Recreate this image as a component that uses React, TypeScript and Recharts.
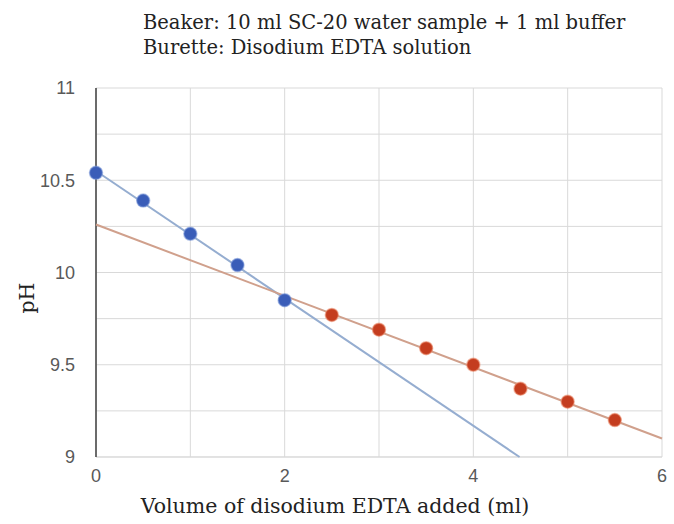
import React from 'react';
import { ScatterChart, Scatter, XAxis, YAxis, CartesianGrid } from 'recharts';

const bluePoints = [
  { x: 0, y: 10.54 },
  { x: 0.5, y: 10.39 },
  { x: 1, y: 10.21 },
  { x: 1.5, y: 10.04 },
  { x: 2, y: 9.85 },
];
const redPoints = [
  { x: 2.5, y: 9.77 },
  { x: 3, y: 9.69 },
  { x: 3.5, y: 9.59 },
  { x: 4, y: 9.5 },
  { x: 4.5, y: 9.37 },
  { x: 5, y: 9.3 },
  { x: 5.5, y: 9.2 },
];
const blueTrend = [
  { x: 0, y: 10.55 },
  { x: 4.49, y: 9 },
];
const redTrend = [
  { x: 0, y: 10.26 },
  { x: 6, y: 9.1 },
];
const xTicks = [0, 1, 2, 3, 4, 5, 6];
const xLabelTicks = [0, 2, 4, 6];
const yTicks = [9, 9.25, 9.5, 9.75, 10, 10.25, 10.5, 10.75, 11];
const yLabelTicks = [9, 9.5, 10, 10.5, 11];

const titleLines = [
  'Beaker: 10 ml SC-20 water sample + 1 ml buffer',
  'Burette: Disodium EDTA solution',
];
const xTitle = 'Volume of disodium EDTA added (ml)';
const yTitle = 'pH';

const serif = '"DejaVu Serif", serif';
const tickStyle = { fill: '#595959', fontSize: 18, fontFamily: '"Liberation Sans", Arial, sans-serif' };

const noShape = () => <g />;

export default function App() {
  return (
    <div style={{ position: 'absolute', left: 0, top: 0, width: 674, height: 524, background: '#fff' }}>
      <ScatterChart width={674} height={524} margin={{ top: 88, right: 12, bottom: 37, left: 36 }}>
        <CartesianGrid stroke="#d9d9d9" strokeWidth={1} />
        <XAxis
          type="number"
          dataKey="x"
          domain={[0, 6]}
          ticks={xTicks}
          interval={0}
          tickFormatter={(v: number) => (xLabelTicks.includes(v) ? String(v) : '')}
          tick={tickStyle}
          tickLine={false}
          tickSize={0}
          tickMargin={12}
          axisLine={{ stroke: '#d9d9d9' }}
          height={30}
        />
        <YAxis
          type="number"
          dataKey="y"
          domain={[9, 11]}
          ticks={yTicks}
          interval={0}
          tickFormatter={(v: number) => (yLabelTicks.includes(v) ? String(v) : '')}
          tick={tickStyle}
          tickLine={false}
          tickSize={0}
          tickMargin={21}
          axisLine={{ stroke: '#404040', strokeWidth: 1.5 }}
          width={60}
        />
        <Scatter
          data={blueTrend}
          line={{ stroke: '#95add0', strokeWidth: 2 }}
          shape={noShape}
          isAnimationActive={false}
        />
        <Scatter
          data={redTrend}
          line={{ stroke: '#d0a08c', strokeWidth: 2 }}
          shape={noShape}
          isAnimationActive={false}
        />
        <Scatter
          data={bluePoints}
          fill="#3a5db8"
          shape={(p: any) => (
            <circle cx={p.cx} cy={p.cy} r={6.5} fill="#3a5db8" stroke="rgba(120,150,215,0.55)" strokeWidth={1.5} />
          )}
          isAnimationActive={false}
        />
        <Scatter
          data={redPoints}
          fill="#c43d1f"
          shape={(p: any) => (
            <circle cx={p.cx} cy={p.cy} r={6.5} fill="#c43d1f" stroke="rgba(235,140,110,0.55)" strokeWidth={1.5} />
          )}
          isAnimationActive={false}
        />
      </ScatterChart>
      <svg width={674} height={524} style={{ position: 'absolute', left: 0, top: 0, pointerEvents: 'none' }}>
        {titleLines.map((t, i) => (
          <text key={i} x={143} y={29 + i * 25} fontFamily={serif} fontSize={19.5} fill="#222">
            {t}
          </text>
        ))}
        <text x={335} y={513} textAnchor="middle" fontFamily={serif} fontSize={20.5} fill="#222">
          {xTitle}
        </text>
        <text
          x={0}
          y={0}
          transform="translate(34,298) rotate(-90)"
          textAnchor="middle"
          fontFamily={serif}
          fontSize={20.5}
          fill="#222"
        >
          {yTitle}
        </text>
      </svg>
    </div>
  );
}
